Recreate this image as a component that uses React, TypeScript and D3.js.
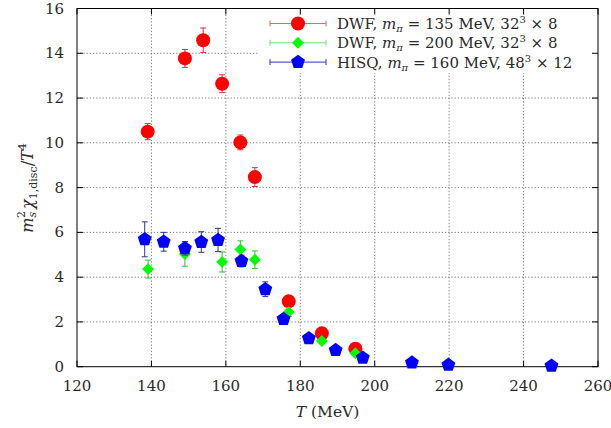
import React from "react";
import * as d3 from "d3";

// DWF, m_pi = 135 MeV
const redT = [139, 149, 153.9, 159, 163.9, 167.8, 176.9, 185.8, 194.8];
const redV = [10.5, 13.77, 14.58, 12.64, 10.02, 8.47, 2.92, 1.49, 0.8];
const redE = [0.36, 0.4, 0.55, 0.4, 0.33, 0.42, 0.15, 0.1, 0.08];

// DWF, m_pi = 200 MeV
const greenT = [139.1, 149, 159, 163.9, 167.8, 176.9, 185.8, 194.8];
const greenV = [4.36, 5.03, 4.68, 5.24, 4.78, 2.44, 1.15, 0.6];
const greenE = [0.4, 0.54, 0.45, 0.38, 0.39, 0.2, 0.1, 0.08];

// HISQ, m_pi = 160 MeV
const blueT = [138.2, 143.3, 149, 153.4, 157.9, 164.2, 170.6, 175.5, 182.3, 189.5, 196.8, 210, 219.8, 247.5];
const blueV = [5.69, 5.58, 5.29, 5.57, 5.66, 4.72, 3.46, 2.13, 1.27, 0.74, 0.4, 0.18, 0.08, 0.04];
const blueE = [0.78, 0.42, 0.3, 0.46, 0.52, 0.26, 0.33, 0.2, 0.12, 0.08, 0.06, 0.04, 0.03, 0.02];

const xTicks = [120, 140, 160, 180, 200, 220, 240, 260];
const yTicks = [0, 2, 4, 6, 8, 10, 12, 14, 16];

const W = 611, H = 428;
const L = 77, R = 598, T = 8.5, B = 366.7;
const FONT = "DejaVu Serif";

const x = d3.scaleLinear().domain([120, 260]).range([L, R]);
const y = d3.scaleLinear().domain([0, 16]).range([B, T]);

function pentagon(r: number) {
  const pts: [number, number][] = d3.range(5).map((i) => {
    const a = -Math.PI / 2 + (i * 2 * Math.PI) / 5;
    return [r * Math.cos(a), r * Math.sin(a)];
  });
  return d3.line()(pts) + "Z";
}
const diamond = d3.symbol().type(d3.symbolDiamond2).size(90)();

type Marker = "circle" | "diamond" | "pentagon";

function MarkerShape({ kind, fill }: { kind: Marker; fill: string }) {
  if (kind === "circle") return <circle r={7} fill={fill} />;
  if (kind === "diamond") return <path d={diamond as string} fill={fill} />;
  return <path d={pentagon(7.3)} fill={fill} />;
}

function Series({ ts, vs, es, kind, fill, bar }: { ts: number[]; vs: number[]; es: number[]; kind: Marker; fill: string; bar: string }) {
  return (
    <g>
      {ts.map((t, i) => {
        const cx = x(t), cy = y(vs[i]);
        const y1 = y(vs[i] + es[i]), y2 = y(vs[i] - es[i]);
        return (
          <g key={i}>
            <line x1={cx} x2={cx} y1={y1} y2={y2} stroke={bar} strokeWidth={1} />
            <line x1={cx - 3} x2={cx + 3} y1={y1} y2={y1} stroke={bar} strokeWidth={1} />
            <line x1={cx - 3} x2={cx + 3} y1={y2} y2={y2} stroke={bar} strokeWidth={1} />
            <g transform={`translate(${cx},${cy})`}>
              <MarkerShape kind={kind} fill={fill} />
            </g>
          </g>
        );
      })}
    </g>
  );
}

const legendItems: { kind: Marker; fill: string; line: string; pre: string; mass: string; vol: string; sup: string; post: string }[] = [
  { kind: "circle", fill: "#ff0000", line: "#d07070", pre: "DWF, ", mass: "135", vol: "32", sup: "3", post: " × 8" },
  { kind: "diamond", fill: "#00ff00", line: "#70e070", pre: "DWF, ", mass: "200", vol: "32", sup: "3", post: " × 8" },
  { kind: "pentagon", fill: "#0000ff", line: "#3030c0", pre: "HISQ, ", mass: "160", vol: "48", sup: "3", post: " × 12" },
];

export default function App() {
  return (
    <svg width={W} height={H} style={{ position: "absolute", left: 0, top: 0, background: "#fff", fontFamily: FONT }}>
      <rect width={W} height={H} fill="#fff" />
      {/* grid */}
      {xTicks.slice(1, -1).map((t) => (
        <line key={"gx" + t} x1={x(t)} x2={x(t)} y1={T} y2={B} stroke="#444" strokeWidth={0.7} strokeDasharray="1.2,2" />
      ))}
      {yTicks.slice(1, -1).map((t) => (
        <line key={"gy" + t} x1={L} x2={R} y1={y(t)} y2={y(t)} stroke="#444" strokeWidth={0.7} strokeDasharray="1.2,2" />
      ))}
      {/* legend background */}
      <rect x={258} y={T + 0.5} width={R - 258 - 0.5} height={64} fill="#fff" />
      {/* ticks */}
      {xTicks.map((t) => (
        <g key={"tx" + t}>
          <line x1={x(t)} x2={x(t)} y1={B} y2={B - 6} stroke="#000" />
          <line x1={x(t)} x2={x(t)} y1={T} y2={T + 6} stroke="#000" />
          <text x={x(t)} y={B + 24} textAnchor="middle" fontSize={15} fill="#2a2a2a">{t}</text>
        </g>
      ))}
      {yTicks.map((t) => (
        <g key={"ty" + t}>
          <line x1={L} x2={L + 6} y1={y(t)} y2={y(t)} stroke="#000" />
          <line x1={R} x2={R - 6} y1={y(t)} y2={y(t)} stroke="#000" />
          <text x={L - 13} y={y(t) + 5} textAnchor="end" fontSize={15} fill="#2a2a2a">{t}</text>
        </g>
      ))}
      <rect x={L} y={T} width={R - L} height={B - T} fill="none" stroke="#000" strokeWidth={1} />
      {/* data */}
      <Series ts={redT} vs={redV} es={redE} kind="circle" fill="#ff0000" bar="#d03040" />
      <Series ts={greenT} vs={greenV} es={greenE} kind="diamond" fill="#00ff00" bar="#30c030" />
      <Series ts={blueT} vs={blueV} es={blueE} kind="pentagon" fill="#0000ff" bar="#3030a0" />
      {/* legend */}
      {legendItems.map((it, i) => {
        const ly = 23.5 + i * 19.3;
        return (
          <g key={"lg" + i}>
            <line x1={270} x2={326} y1={ly} y2={ly} stroke={it.line} strokeWidth={1} />
            <line x1={270} x2={270} y1={ly - 3} y2={ly + 3} stroke={it.line} />
            <line x1={326} x2={326} y1={ly - 3} y2={ly + 3} stroke={it.line} />
            <g transform={`translate(298,${ly})`}>
              <MarkerShape kind={it.kind} fill={it.fill} />
            </g>
            <text x={337} y={ly + 5.5} fontSize={15} fill="#2a2a2a">
              {it.pre}
              <tspan fontStyle="italic">m</tspan>
              <tspan fontStyle="italic" fontSize={10} dy={3}>π</tspan>
              <tspan dy={-3}>{` = ${it.mass} MeV, ${it.vol}`}</tspan>
              <tspan fontSize={10} dy={-6}>{it.sup}</tspan>
              <tspan dy={6}>{it.post}</tspan>
            </text>
          </g>
        );
      })}
      {/* axis labels */}
      <text x={(L + R) / 2 - 10} y={417} textAnchor="middle" fontSize={15.5} fill="#2a2a2a">
        <tspan fontStyle="italic">T</tspan>
        <tspan> (MeV)</tspan>
      </text>
      <text transform="translate(33,188) rotate(-90)" textAnchor="middle" fontSize={16} fill="#2a2a2a">
        <tspan fontStyle="italic">m</tspan>
        <tspan fontStyle="italic" fontSize={11} dy={3}>s</tspan>
        <tspan fontSize={11} dy={-11} dx={-6}>2</tspan>
        <tspan fontStyle="italic" dy={8} dx={2}>χ</tspan>
        <tspan fontSize={11} dy={4}>1,disc</tspan>
        <tspan dy={-4}>/</tspan>
        <tspan fontStyle="italic">T</tspan>
        <tspan fontSize={11} dy={-7}>4</tspan>
      </text>
    </svg>
  );
}
